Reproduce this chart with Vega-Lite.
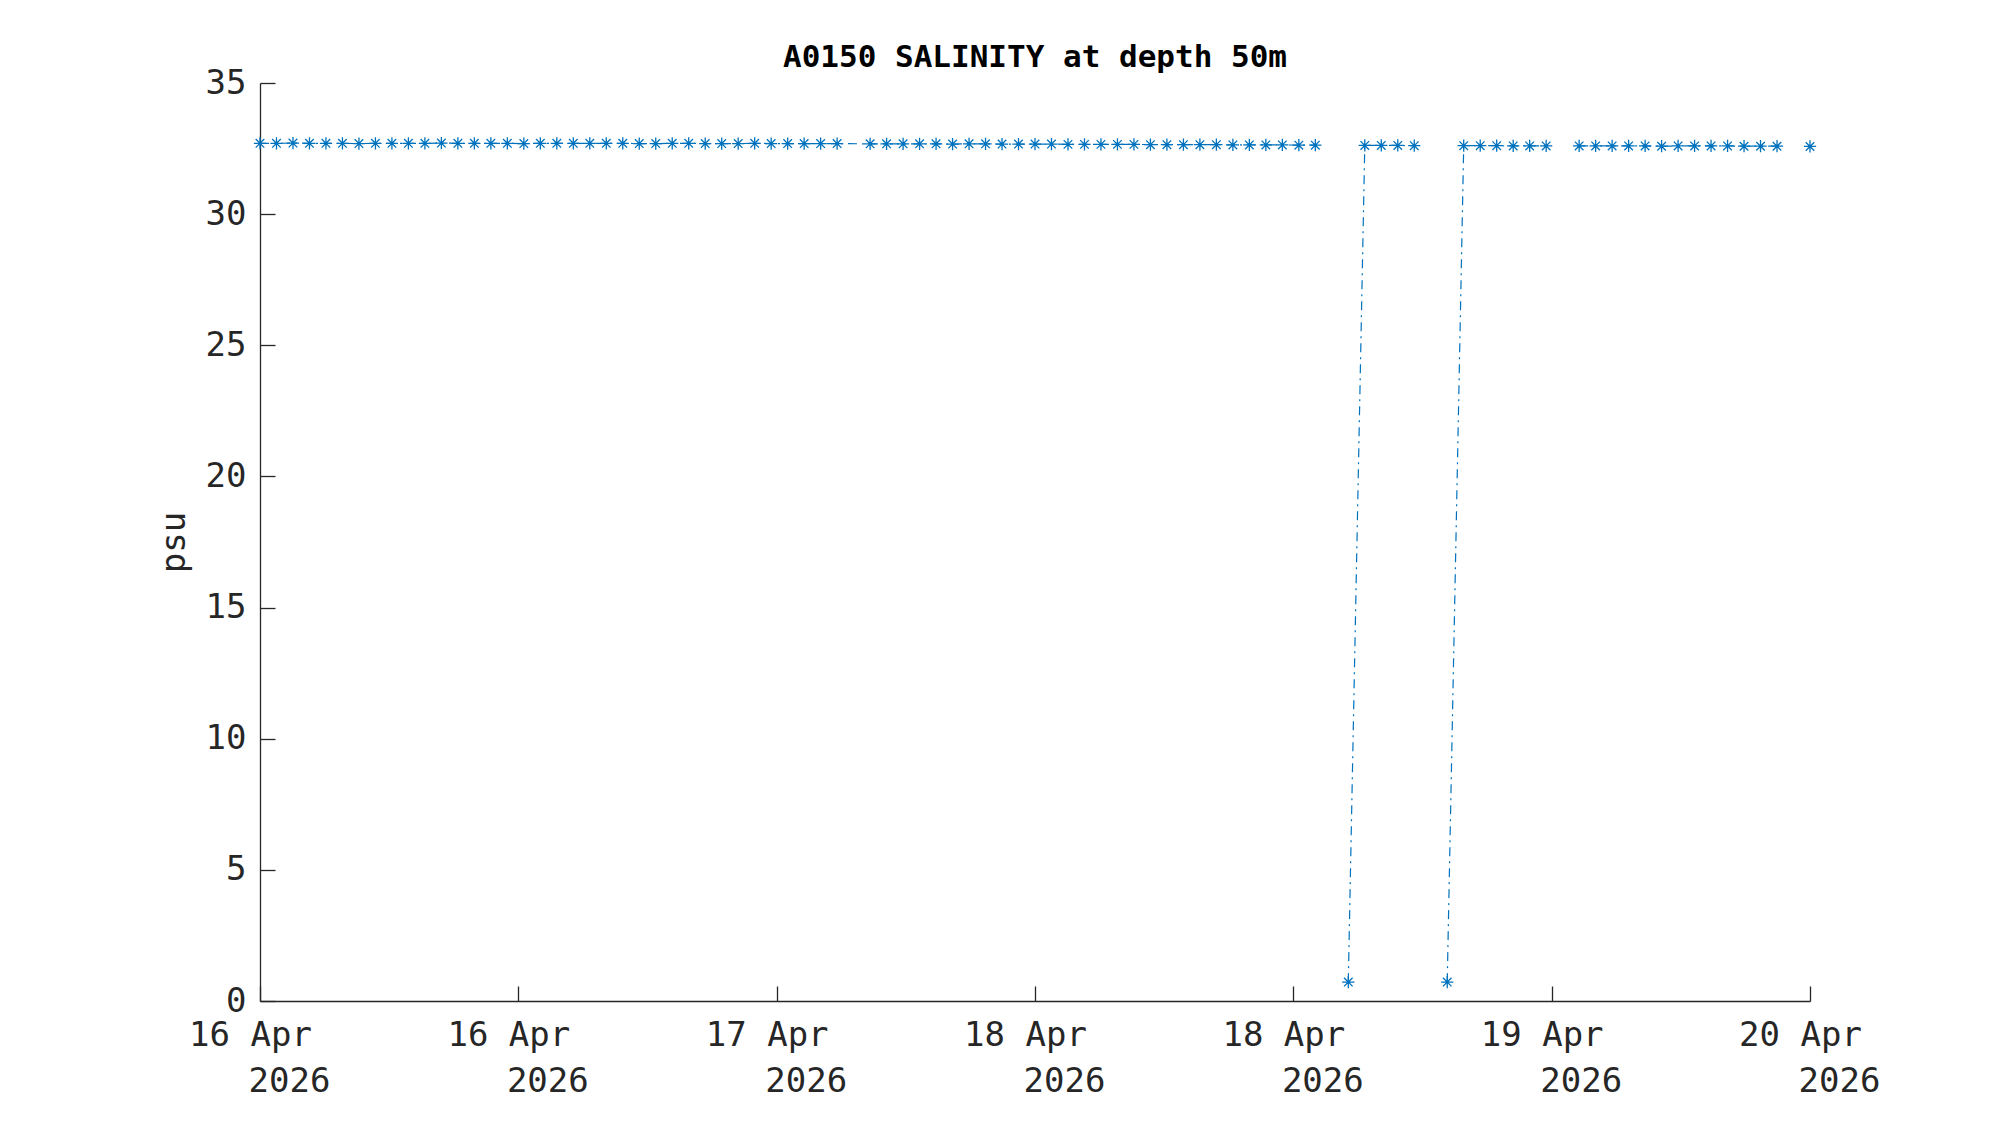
{
  "$schema": "https://vega.github.io/schema/vega-lite/v6.json",
  "width": 1550,
  "height": 918,
  "autosize": {"type": "none"},
  "padding": {"left": 260, "top": 83, "right": 190, "bottom": 124},
  "background": "white",
  "title": {
    "text": "A0150 SALINITY at depth 50m",
    "font": "DejaVu Sans Mono",
    "fontSize": 31,
    "fontWeight": "bold",
    "color": "#000000",
    "anchor": "middle",
    "offset": -8
  },
  "config": {
    "view": {"stroke": null},
    "axis": {
      "grid": false,
      "domainColor": "#262626",
      "domainWidth": 1.3,
      "tickColor": "#262626",
      "tickWidth": 1.3,
      "labelColor": "#262626",
      "labelFont": "DejaVu Sans Mono",
      "labelFontSize": 34,
      "titleFont": "DejaVu Sans Mono",
      "titleFontSize": 34,
      "titleFontWeight": "normal",
      "titleColor": "#262626",
      "labelOverlap": false,
      "labelFlush": false,
      "labelBound": false
    }
  },
  "data": {
    "values": [
      {"t": "2026-04-16T02:00:00", "v": 32.70, "run": "a"},
      {"t": "2026-04-16T03:00:00", "v": 32.70, "run": "a"},
      {"t": "2026-04-16T04:00:00", "v": 32.71, "run": "a"},
      {"t": "2026-04-16T05:00:00", "v": 32.70, "run": "a"},
      {"t": "2026-04-16T06:00:00", "v": 32.70, "run": "a"},
      {"t": "2026-04-16T07:00:00", "v": 32.70, "run": "a"},
      {"t": "2026-04-16T08:00:00", "v": 32.69, "run": "a"},
      {"t": "2026-04-16T09:00:00", "v": 32.70, "run": "a"},
      {"t": "2026-04-16T10:00:00", "v": 32.70, "run": "a"},
      {"t": "2026-04-16T11:00:00", "v": 32.70, "run": "a"},
      {"t": "2026-04-16T12:00:00", "v": 32.70, "run": "a"},
      {"t": "2026-04-16T13:00:00", "v": 32.71, "run": "a"},
      {"t": "2026-04-16T14:00:00", "v": 32.70, "run": "a"},
      {"t": "2026-04-16T15:00:00", "v": 32.70, "run": "a"},
      {"t": "2026-04-16T16:00:00", "v": 32.70, "run": "a"},
      {"t": "2026-04-16T17:00:00", "v": 32.70, "run": "a"},
      {"t": "2026-04-16T18:00:00", "v": 32.69, "run": "a"},
      {"t": "2026-04-16T19:00:00", "v": 32.70, "run": "a"},
      {"t": "2026-04-16T20:00:00", "v": 32.70, "run": "a"},
      {"t": "2026-04-16T21:00:00", "v": 32.70, "run": "a"},
      {"t": "2026-04-16T22:00:00", "v": 32.70, "run": "a"},
      {"t": "2026-04-16T23:00:00", "v": 32.70, "run": "a"},
      {"t": "2026-04-17T00:00:00", "v": 32.70, "run": "a"},
      {"t": "2026-04-17T01:00:00", "v": 32.69, "run": "a"},
      {"t": "2026-04-17T02:00:00", "v": 32.69, "run": "a"},
      {"t": "2026-04-17T03:00:00", "v": 32.70, "run": "a"},
      {"t": "2026-04-17T04:00:00", "v": 32.70, "run": "a"},
      {"t": "2026-04-17T05:00:00", "v": 32.69, "run": "a"},
      {"t": "2026-04-17T06:00:00", "v": 32.69, "run": "a"},
      {"t": "2026-04-17T07:00:00", "v": 32.69, "run": "a"},
      {"t": "2026-04-17T08:00:00", "v": 32.70, "run": "a"},
      {"t": "2026-04-17T09:00:00", "v": 32.69, "run": "a"},
      {"t": "2026-04-17T10:00:00", "v": 32.69, "run": "a"},
      {"t": "2026-04-17T11:00:00", "v": 32.69, "run": "a"},
      {"t": "2026-04-17T12:00:00", "v": 32.69, "run": "a"},
      {"t": "2026-04-17T13:00:00", "v": 32.69, "run": "a"},
      {"t": "2026-04-17T15:00:00", "v": 32.68, "run": "a"},
      {"t": "2026-04-17T16:00:00", "v": 32.68, "run": "a"},
      {"t": "2026-04-17T17:00:00", "v": 32.68, "run": "a"},
      {"t": "2026-04-17T18:00:00", "v": 32.68, "run": "a"},
      {"t": "2026-04-17T19:00:00", "v": 32.68, "run": "a"},
      {"t": "2026-04-17T20:00:00", "v": 32.67, "run": "a"},
      {"t": "2026-04-17T21:00:00", "v": 32.68, "run": "a"},
      {"t": "2026-04-17T22:00:00", "v": 32.68, "run": "a"},
      {"t": "2026-04-17T23:00:00", "v": 32.67, "run": "a"},
      {"t": "2026-04-18T00:00:00", "v": 32.67, "run": "a"},
      {"t": "2026-04-18T01:00:00", "v": 32.67, "run": "a"},
      {"t": "2026-04-18T02:00:00", "v": 32.67, "run": "a"},
      {"t": "2026-04-18T03:00:00", "v": 32.66, "run": "a"},
      {"t": "2026-04-18T04:00:00", "v": 32.66, "run": "a"},
      {"t": "2026-04-18T05:00:00", "v": 32.66, "run": "a"},
      {"t": "2026-04-18T06:00:00", "v": 32.66, "run": "a"},
      {"t": "2026-04-18T07:00:00", "v": 32.66, "run": "a"},
      {"t": "2026-04-18T08:00:00", "v": 32.65, "run": "a"},
      {"t": "2026-04-18T09:00:00", "v": 32.65, "run": "a"},
      {"t": "2026-04-18T10:00:00", "v": 32.65, "run": "a"},
      {"t": "2026-04-18T11:00:00", "v": 32.65, "run": "a"},
      {"t": "2026-04-18T12:00:00", "v": 32.65, "run": "a"},
      {"t": "2026-04-18T13:00:00", "v": 32.64, "run": "a"},
      {"t": "2026-04-18T14:00:00", "v": 32.64, "run": "a"},
      {"t": "2026-04-18T15:00:00", "v": 32.64, "run": "a"},
      {"t": "2026-04-18T16:00:00", "v": 32.64, "run": "a"},
      {"t": "2026-04-18T17:00:00", "v": 32.63, "run": "a"},
      {"t": "2026-04-18T18:00:00", "v": 32.63, "run": "a"},
      {"t": "2026-04-18T20:00:00", "v": 0.72, "run": "b"},
      {"t": "2026-04-18T21:00:00", "v": 32.62, "run": "b"},
      {"t": "2026-04-18T22:00:00", "v": 32.62, "run": "b"},
      {"t": "2026-04-18T23:00:00", "v": 32.62, "run": "b"},
      {"t": "2026-04-19T00:00:00", "v": 32.61, "run": "b"},
      {"t": "2026-04-19T02:00:00", "v": 0.72, "run": "c"},
      {"t": "2026-04-19T03:00:00", "v": 32.61, "run": "c"},
      {"t": "2026-04-19T04:00:00", "v": 32.61, "run": "c"},
      {"t": "2026-04-19T05:00:00", "v": 32.61, "run": "c"},
      {"t": "2026-04-19T06:00:00", "v": 32.60, "run": "c"},
      {"t": "2026-04-19T07:00:00", "v": 32.60, "run": "c"},
      {"t": "2026-04-19T08:00:00", "v": 32.60, "run": "c"},
      {"t": "2026-04-19T10:00:00", "v": 32.60, "run": "d"},
      {"t": "2026-04-19T11:00:00", "v": 32.60, "run": "d"},
      {"t": "2026-04-19T12:00:00", "v": 32.60, "run": "d"},
      {"t": "2026-04-19T13:00:00", "v": 32.60, "run": "d"},
      {"t": "2026-04-19T14:00:00", "v": 32.60, "run": "d"},
      {"t": "2026-04-19T15:00:00", "v": 32.59, "run": "d"},
      {"t": "2026-04-19T16:00:00", "v": 32.60, "run": "d"},
      {"t": "2026-04-19T17:00:00", "v": 32.60, "run": "d"},
      {"t": "2026-04-19T18:00:00", "v": 32.60, "run": "d"},
      {"t": "2026-04-19T19:00:00", "v": 32.60, "run": "d"},
      {"t": "2026-04-19T20:00:00", "v": 32.59, "run": "d"},
      {"t": "2026-04-19T21:00:00", "v": 32.59, "run": "d"},
      {"t": "2026-04-19T22:00:00", "v": 32.59, "run": "d"},
      {"t": "2026-04-20T00:00:00", "v": 32.58, "run": "e"}
    ]
  },
  "encoding": {
    "y": {
      "field": "v",
      "type": "quantitative",
      "scale": {"domain": [0, 35], "nice": false, "zero": true},
      "axis": {
        "title": "psu",
        "values": [0, 5, 10, 15, 20, 25, 30, 35],
        "tickSize": -15,
        "labelPadding": 29,
        "titlePadding": 14
      }
    }
  },
  "layer": [
    {
      "encoding": {
        "x": {
          "field": "t",
          "type": "temporal",
          "scale": {
            "domain": [
              {"year": 2026, "month": "Apr", "date": 16, "hours": 2},
              {"year": 2026, "month": "Apr", "date": 20, "hours": 0}
            ],
            "nice": false
          },
          "axis": {
            "title": null,
            "orient": "bottom",
            "values": [
              {"year": 2026, "month": "Apr", "date": 16, "hours": 2},
              {"year": 2026, "month": "Apr", "date": 16, "hours": 17, "minutes": 40},
              {"year": 2026, "month": "Apr", "date": 17, "hours": 9, "minutes": 20},
              {"year": 2026, "month": "Apr", "date": 18, "hours": 1},
              {"year": 2026, "month": "Apr", "date": 18, "hours": 16, "minutes": 40},
              {"year": 2026, "month": "Apr", "date": 19, "hours": 8, "minutes": 20},
              {"year": 2026, "month": "Apr", "date": 20, "hours": 0}
            ],
            "format": "%d %b",
            "labelAlign": "center",
            "labelBaseline": "top",
            "labelOffset": -10,
            "labelPadding": 32,
            "tickSize": -15
          }
        }
      },
      "layer": [
        {
          "mark": {
            "type": "line",
            "color": "#0072BD",
            "strokeWidth": 1.2,
            "strokeDash": [9, 5, 2, 5]
          },
          "encoding": {"detail": {"field": "run", "type": "nominal"}}
        },
        {
          "mark": {
            "type": "point",
            "shape": "M-1,0L1,0M0,-1L0,1M-0.7,-0.7L0.7,0.7M-0.7,0.7L0.7,-0.7",
            "filled": false,
            "color": "#0072BD",
            "strokeWidth": 1.3,
            "size": 150,
            "opacity": 1
          },
          "encoding": {}
        }
      ]
    },
    {
      "mark": {"type": "point", "opacity": 0},
      "encoding": {
        "x": {
          "field": "t",
          "type": "temporal",
          "scale": {
            "domain": [
              {"year": 2026, "month": "Apr", "date": 16, "hours": 2},
              {"year": 2026, "month": "Apr", "date": 20, "hours": 0}
            ],
            "nice": false
          },
          "axis": {
            "title": null,
            "orient": "bottom",
            "domain": false,
            "ticks": false,
            "values": [
              {"year": 2026, "month": "Apr", "date": 16, "hours": 2},
              {"year": 2026, "month": "Apr", "date": 16, "hours": 17, "minutes": 40},
              {"year": 2026, "month": "Apr", "date": 17, "hours": 9, "minutes": 20},
              {"year": 2026, "month": "Apr", "date": 18, "hours": 1},
              {"year": 2026, "month": "Apr", "date": 18, "hours": 16, "minutes": 40},
              {"year": 2026, "month": "Apr", "date": 19, "hours": 8, "minutes": 20},
              {"year": 2026, "month": "Apr", "date": 20, "hours": 0}
            ],
            "format": "%Y",
            "labelAlign": "center",
            "labelBaseline": "top",
            "labelOffset": 29,
            "labelPadding": 63
          }
        }
      }
    }
  ],
  "resolve": {"scale": {"x": "independent"}}
}
